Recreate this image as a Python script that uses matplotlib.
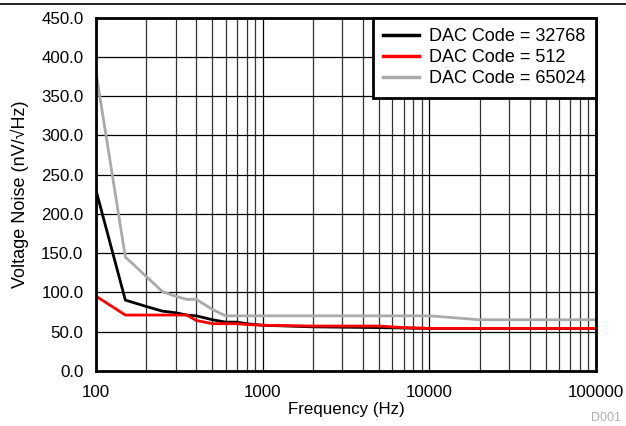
import matplotlib.pyplot as plt
from matplotlib.ticker import FixedLocator, LogLocator, NullFormatter

freq_black = [100, 150, 200, 250, 300, 350, 400, 500, 600, 700, 800, 1000, 2000, 5000, 10000, 20000, 100000]
noise_black = [230, 90, 82, 76, 74, 71, 70, 65, 62, 62, 60, 58, 56, 55, 54, 54, 54]

freq_red = [100, 150, 200, 250, 300, 350, 400, 500, 600, 700, 800, 1000, 2000, 5000, 7000, 10000, 20000, 100000]
noise_red = [95, 71, 71, 71, 71, 71, 64, 60, 60, 60, 59, 58, 57, 57, 55, 54, 54, 54]

freq_gray = [100, 150, 250, 300, 350, 400, 500, 600, 1000, 2000, 5000, 10000, 20000, 50000, 100000]
noise_gray = [380, 145, 101, 95, 91, 91, 78, 70, 70, 70, 70, 70, 65, 65, 65]

labels = ["DAC Code = 32768", "DAC Code = 512", "DAC Code = 65024"]
yticks = [0, 50, 100, 150, 200, 250, 300, 350, 400, 450]

plt.rcParams['font.family'] = ['Liberation Sans', 'DejaVu Sans']

fig = plt.figure(figsize=(6.26, 4.26), dpi=100)
ax = fig.add_axes([96 / 626, 1 - 370.8 / 426, 500 / 626, (370.8 - 17.5) / 426])

ax.plot(freq_black, noise_black, color="black", lw=2, label=labels[0])
ax.plot(freq_red, noise_red, color="#ff0000", lw=2, label=labels[1])
ax.plot(freq_gray, noise_gray, color="#aaaaaa", lw=2, label=labels[2])

ax.set_xscale("log")
ax.set_xlim(100, 100000)
ax.set_ylim(0, 450)
ax.xaxis.set_major_locator(FixedLocator([100, 1000, 10000, 100000]))
ax.xaxis.set_minor_locator(LogLocator(base=10, subs=range(2, 10)))
ax.xaxis.set_minor_formatter(NullFormatter())
ax.set_xticklabels(["100", "1000", "10000", "100000"])
ax.set_yticks(yticks)
ax.set_yticklabels([f"{v:.1f}" for v in yticks])
ax.tick_params(axis="both", which="both", length=0, labelsize=12.2)
ax.tick_params(axis="x", pad=10)
ax.tick_params(axis="y", pad=9)

ax.grid(True, which="major", color="black", lw=0.9)
ax.grid(True, which="minor", axis="x", color="#333333", lw=0.9)
ax.set_axisbelow(True)
for s in ax.spines.values():
    s.set_linewidth(2)

ax.set_xlabel("Frequency (Hz)", fontsize=12.2, labelpad=2)
ax.set_ylabel("Voltage Noise (nV/\u221aHz)", fontsize=13, labelpad=9)

leg = ax.legend(loc="upper right", fontsize=13, frameon=True, fancybox=False,
                borderaxespad=0, handlelength=1.95, labelspacing=0.22,
                borderpad=0.6, handletextpad=0.55)
leg.get_frame().set_edgecolor("black")
leg.get_frame().set_linewidth(2)
leg.get_frame().set_alpha(1)
for h in leg.get_lines():
    h.set_linewidth(2.5)

fig.add_artist(plt.Line2D([0, 1], [1 - 3.5 / 426, 1 - 3.5 / 426], color="black", lw=1.2))
fig.text(621 / 626, 1 - 418 / 426, "D001", color="#b0b0b0", fontsize=9, ha="right", va="center")

fig.savefig("out.png", dpi=100)
